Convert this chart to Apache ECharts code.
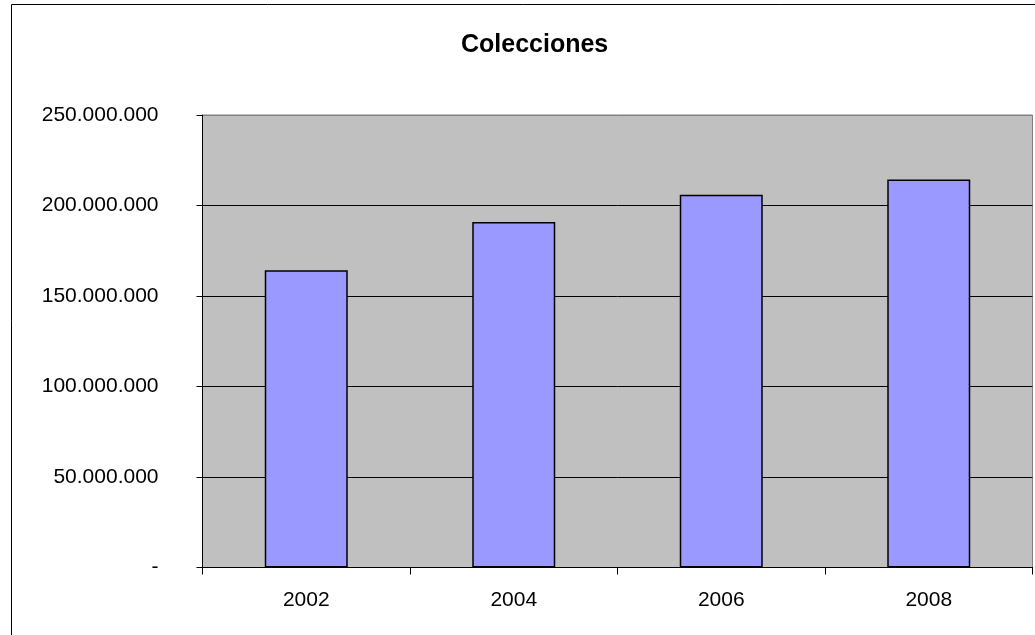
<!DOCTYPE html>
<html>
<head>
<meta charset="utf-8">
<script src="https://cdn.jsdelivr.net/npm/echarts@6/dist/echarts.min.js"></script>
<style>
html,body{margin:0;padding:0;background:#fff;}
#c{width:1035px;height:635px;}
</style>
</head>
<body>
<div id="c"></div>
<script>
var categories = ['2002', '2004', '2006', '2008'];
var colecciones = [164200000, 190900000, 206000000, 214300000];
var yTicks = [0, 50000000, 100000000, 150000000, 200000000, 250000000];

function fmt(v) {
  if (v === 0) return '-';
  return String(Math.round(v)).replace(/\B(?=(\d{3})+(?!\d))/g, '.');
}

var chart = echarts.init(document.getElementById('c'), null, {renderer: 'canvas'});
chart.setOption({
  animation: false,
  backgroundColor: '#ffffff',
  title: {
    text: 'Colecciones',
    left: 456,
    top: 28,
    textStyle: {fontFamily: 'Liberation Sans, Arial, sans-serif', fontWeight: 'bold', fontSize: 25, color: '#000'}
  },
  graphic: [{
    type: 'rect',
    shape: {x: 11.5, y: 4.5, width: 1100, height: 700},
    style: {fill: 'none', stroke: '#000', lineWidth: 1},
    silent: true
  }],
  grid: {
    left: 202.5, right: 2.5, top: 115, bottom: 67.5,
    show: true, backgroundColor: '#C0C0C0', borderColor: '#808080', borderWidth: 1
  },
  xAxis: {
    type: 'category',
    data: categories,
    boundaryGap: true,
    axisLine: {show: true, lineStyle: {color: '#000', width: 1}},
    axisTick: {show: true, length: 7, lineStyle: {color: '#000'}},
    axisLabel: {margin: 22, fontFamily: 'Liberation Sans, Arial, sans-serif', fontSize: 21, color: '#000'},
    splitLine: {show: false}
  },
  yAxis: {
    type: 'value',
    min: yTicks[0],
    max: yTicks[yTicks.length - 1],
    interval: yTicks[1] - yTicks[0],
    axisLine: {show: true, lineStyle: {color: '#000', width: 1}},
    axisTick: {show: true, length: 6, lineStyle: {color: '#000'}},
    axisLabel: {margin: 44, fontFamily: 'Liberation Sans, Arial, sans-serif', fontSize: 21, color: '#000', formatter: fmt},
    splitLine: {show: true, lineStyle: {color: ['#000', '#000', '#000', '#000', '#000', '#808080'], width: 1}}
  },
  series: [{
    type: 'bar',
    data: colecciones,
    barWidth: '40%',
    itemStyle: {color: '#9999FF', borderColor: '#000', borderWidth: 1.5}
  }]
});
</script>
</body>
</html>
